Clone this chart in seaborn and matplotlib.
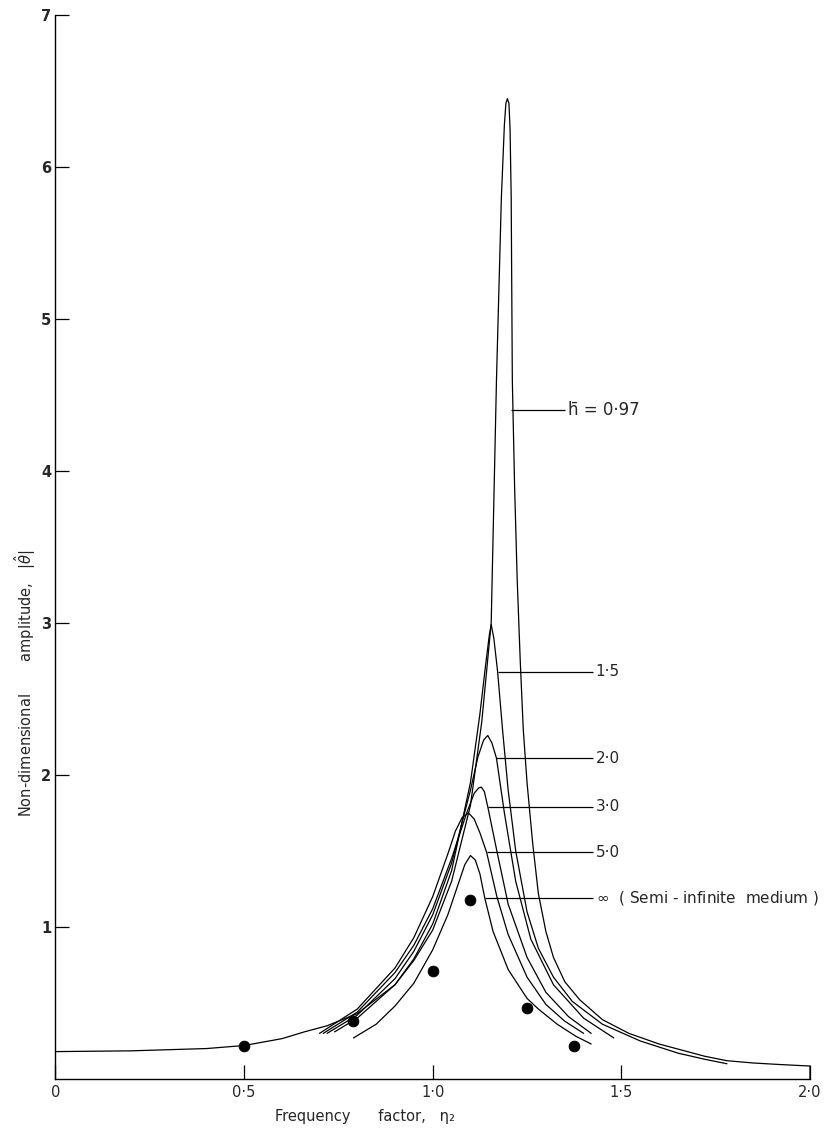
import numpy as np
import pandas as pd
import matplotlib
matplotlib.use("Agg")
import matplotlib.pyplot as plt
import seaborn as sns

sns.set_theme(style="white")
plt.rcParams['font.family'] = ['DejaVu Sans']
plt.rcParams['mathtext.fontset'] = 'dejavusans'

# === curves (frequency factor eta_2, amplitude |theta|) ===
x_097 = [0.0, 0.2, 0.4, 0.5, 0.6, 0.66, 0.72, 0.8, 0.9, 0.95, 1.0, 1.05, 1.1, 1.13, 1.155,
         1.169, 1.182, 1.19, 1.194, 1.198, 1.202, 1.205, 1.208, 1.211, 1.217, 1.224, 1.232,
         1.24, 1.25, 1.265, 1.28, 1.3, 1.32, 1.35, 1.39, 1.45, 1.52, 1.6, 1.66, 1.72, 1.78,
         1.85, 1.92, 2.0, 2.0]
y_097 = [0.18, 0.185, 0.2, 0.22, 0.265, 0.31, 0.35, 0.43, 0.62, 0.78, 0.98, 1.3, 1.8, 2.35,
         3.0, 4.6, 5.8, 6.28, 6.42, 6.45, 6.42, 6.25, 5.8, 4.6, 3.9, 3.28, 2.75, 2.3, 1.95,
         1.55, 1.22, 0.97, 0.8, 0.64, 0.52, 0.39, 0.3, 0.23, 0.19, 0.15, 0.12, 0.105, 0.095,
         0.085, 0.0]

x_15 = [0.74, 0.8, 0.9, 0.95, 1.0, 1.05, 1.1, 1.125, 1.14, 1.15, 1.155, 1.162, 1.172, 1.185,
        1.2, 1.22, 1.25, 1.28, 1.32, 1.37, 1.45, 1.55, 1.65, 1.72, 1.78]
y_15 = [0.31, 0.4, 0.62, 0.79, 1.02, 1.37, 1.95, 2.4, 2.72, 2.92, 2.99, 2.9, 2.68, 2.3,
        1.9, 1.5, 1.1, 0.86, 0.67, 0.51, 0.36, 0.25, 0.17, 0.13, 0.1]

x_20 = [0.72, 0.8, 0.9, 0.95, 1.0, 1.05, 1.1, 1.12, 1.135, 1.146, 1.157, 1.169, 1.19, 1.22,
        1.26, 1.32, 1.4, 1.48]
y_20 = [0.3, 0.42, 0.66, 0.84, 1.08, 1.42, 1.9, 2.12, 2.23, 2.26, 2.21, 2.11, 1.75, 1.3,
        0.92, 0.62, 0.4, 0.27]

x_30 = [0.71, 0.8, 0.9, 0.95, 1.0, 1.05, 1.09, 1.11, 1.122, 1.129, 1.137, 1.146, 1.17, 1.2,
        1.25, 1.3, 1.36, 1.42]
y_30 = [0.3, 0.44, 0.7, 0.88, 1.12, 1.45, 1.75, 1.88, 1.915, 1.92, 1.89, 1.79, 1.5, 1.15,
        0.8, 0.57, 0.41, 0.3]

x_50 = [0.7, 0.8, 0.9, 0.95, 1.0, 1.04, 1.06, 1.078, 1.095, 1.11, 1.125, 1.143, 1.17, 1.2,
        1.25, 1.3, 1.35, 1.4]
y_50 = [0.3, 0.46, 0.73, 0.93, 1.2, 1.48, 1.63, 1.72, 1.75, 1.71, 1.62, 1.49, 1.2, 0.95,
        0.67, 0.49, 0.38, 0.3]

x_inf = [0.79, 0.85, 0.9, 0.95, 1.0, 1.04, 1.07, 1.085, 1.1, 1.113, 1.125, 1.138, 1.16, 1.2,
         1.25, 1.28, 1.33, 1.38, 1.42]
y_inf = [0.27, 0.36, 0.48, 0.63, 0.85, 1.08, 1.3, 1.41, 1.47, 1.44, 1.35, 1.19, 0.97, 0.72,
         0.53, 0.46, 0.36, 0.28, 0.23]

# experimental points
dot_x = [0.5, 0.79, 1.0, 1.1, 1.25, 1.375]
dot_y = [0.22, 0.38, 0.71, 1.18, 0.47, 0.22]

# curve labels with their leader lines
lab_text = ["h̄ = 0·97", "1·5", "2·0", "3·0", "5·0", "$\\infty$  ( Semi - infinite  medium )"]
lab_size = [12, 11, 11, 11, 11, 11]
lab_y = [4.4, 2.68, 2.11, 1.79, 1.49, 1.19]
lab_x0 = [1.207, 1.172, 1.169, 1.146, 1.143, 1.138]
lab_x1 = [1.35, 1.424, 1.424, 1.424, 1.424, 1.424]

xtick_vals = [0, 0.5, 1.0, 1.5, 2.0]
xtick_labs = ["0", "0·5", "1·0", "1·5", "2·0"]
ytick_vals = [1, 2, 3, 4, 5, 6, 7]
ytick_labs = ["1", "2", "3", "4", "5", "6", "7"]

curves = {"0.97": (x_097, y_097), "1.5": (x_15, y_15), "2.0": (x_20, y_20),
          "3.0": (x_30, y_30), "5.0": (x_50, y_50), "inf": (x_inf, y_inf)}

fig = plt.figure(figsize=(8.34, 11.33), dpi=100)
ax = fig.add_axes([0.0665, 0.0477, 0.9047, 0.939])

for name, (xs, ys) in curves.items():
    df = pd.DataFrame({"x": xs, "y": ys})
    sns.lineplot(data=df, x="x", y="y", color="black", linewidth=0.9,
                 sort=False, estimator=None, ax=ax)

sns.scatterplot(x=dot_x, y=dot_y, color="black", s=60, edgecolor="black", ax=ax, zorder=5)

ax.hlines(lab_y, lab_x0, lab_x1, color="black", linewidth=0.9)
for t, y, x1, fs in zip(lab_text, lab_y, lab_x1, lab_size):
    ax.text(x1 + 0.008, y, t, fontsize=fs, va="center", ha="left")

ax.set_xlim(0, 2.0)
ax.set_ylim(0, 7)
ax.set_xticks(xtick_vals)
ax.set_xticklabels(xtick_labs, fontsize=10.5)
ax.set_yticks(ytick_vals)
ax.set_yticklabels(ytick_labs, fontsize=10.5, fontweight="bold")
ax.tick_params(axis="both", direction="in", length=10, width=0.9, color="black",
               bottom=True, left=True, pad=4)
ax.tick_params(axis="y", pad=3)
for s in ["top", "right"]:
    ax.spines[s].set_visible(False)
for s in ["left", "bottom"]:
    ax.spines[s].set_color("black")
    ax.spines[s].set_linewidth(1.0)

ax.set_xlabel("")
ax.set_ylabel("")
ax.text(0.82, -0.25, "Frequency      factor,   η₂", fontsize=10.5, ha="center", va="center")
ax.text(-0.08, 2.6, "Non-dimensional       amplitude,   $|\\hat{\\theta}|$", fontsize=10.5,
        rotation=90, ha="center", va="center")

fig.savefig("out.png", dpi=100)
